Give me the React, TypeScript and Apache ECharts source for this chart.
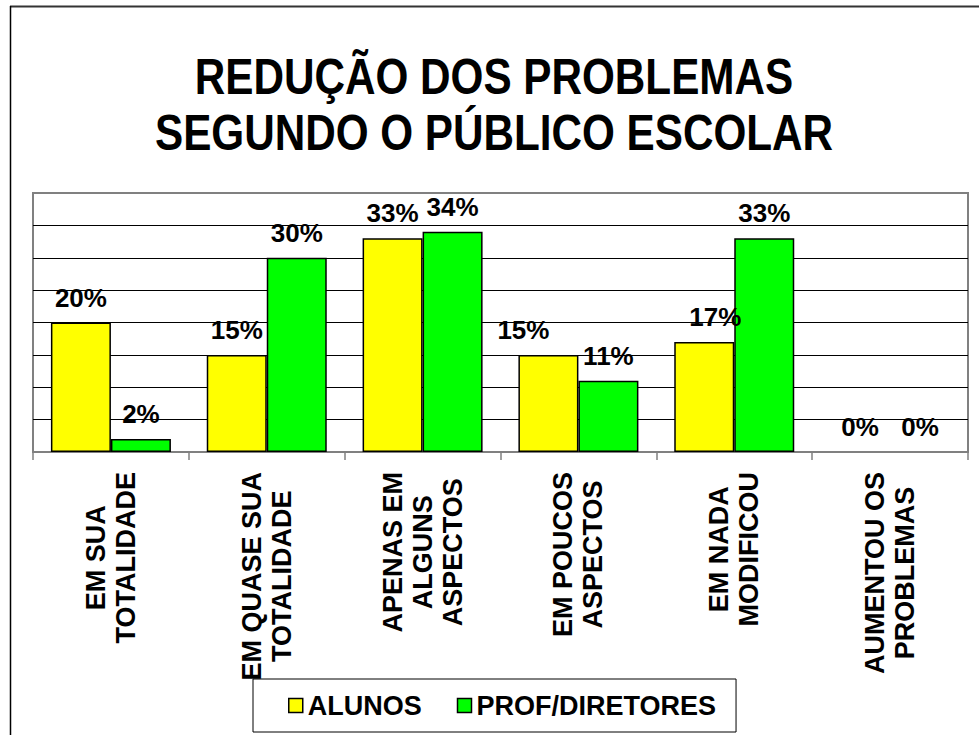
import React, { useEffect, useRef } from "react";
import * as echarts from "echarts";

const titleLines = ["REDUÇÃO DOS PROBLEMAS", "SEGUNDO O PÚBLICO ESCOLAR"];
const categories = [
  "EM SUA\nTOTALIDADE",
  "EM QUASE SUA\nTOTALIDADE",
  "APENAS EM\nALGUNS\nASPECTOS",
  "EM POUCOS\nASPECTOS",
  "EM NADA\nMODIFICOU",
  "AUMENTOU OS\nPROBLEMAS",
];
const seriesNames = ["ALUNOS", "PROF/DIRETORES"];
const alunos = [20, 15, 33, 15, 17, 0];
const profDiretores = [2, 30, 34, 11, 33, 0];

const FONT = '"Liberation Sans", Arial, Helvetica, sans-serif';

export default function App() {
  const ref = useRef<HTMLDivElement>(null);
  useEffect(() => {
    document.body.style.margin = "0";
    if (!ref.current) return;
    const chart = echarts.init(ref.current, null, { renderer: "svg" });
    const labelBase = {
      show: true,
      position: "top",
      distance: 12,
      formatter: "{c}%",
      color: "#000",
      fontSize: 26,
      fontWeight: "bold",
      fontFamily: FONT,
    };
    const zeroStyle = (v: number, extra: any = {}) =>
      v === 0 ? { value: v, itemStyle: { borderWidth: 0 }, ...extra } : Object.keys(extra).length ? { value: v, ...extra } : v;
    const alunosData = alunos.map((v, i) => {
      if (i === 3) return zeroStyle(v, { label: { offset: [-25, 0] } });
      if (i === 4) return zeroStyle(v, { label: { offset: [11, 0] } });
      return zeroStyle(v);
    });
    const profData = profDiretores.map((v) => zeroStyle(v));
    const option = {
      animation: false,
      backgroundColor: "#fff",
      graphic: [
        {
          type: "line",
          shape: { x1: 10, y1: 6.5, x2: 979, y2: 6.5 },
          style: { stroke: "#333", lineWidth: 2 },
        },
        {
          type: "line",
          shape: { x1: 10.5, y1: 6, x2: 10.5, y2: 735 },
          style: { stroke: "#000", lineWidth: 1.5 },
        },
        ...titleLines.map((t, i) => ({
          type: "text",
          x: 494,
          y: 77 + i * 56,
          scaleX: 0.845,
          style: {
            text: t,
            fill: "#000",
            fontSize: 50,
            fontWeight: "bold",
            fontFamily: FONT,
            align: "center",
            verticalAlign: "middle",
          },
        })),
      ],
      legend: {
        left: 253,
        top: 679,
        orient: "horizontal",
        padding: [13, 20, 13, 35],
        itemGap: 35,
        itemWidth: 14,
        itemHeight: 14,
        icon: "path://M0,0L10,0L10,10L0,10Z",
        symbolKeepAspect: true,
        borderColor: "#000",
        borderWidth: 1,
        itemStyle: { borderColor: "#000", borderWidth: 1.5 },
        textStyle: {
          color: "#000",
          fontSize: 27,
          fontWeight: "bold",
          fontFamily: FONT,
        },
        data: seriesNames,
      },
      grid: {
        left: 33,
        right: 11,
        top: 193,
        bottom: 283,
        show: true,
        borderColor: "#808080",
        borderWidth: 2,
      },
      xAxis: {
        type: "category",
        data: categories,
        axisLine: { show: true, lineStyle: { color: "#808080", width: 2 } },
        axisTick: { show: true, length: 8, lineStyle: { color: "#808080", width: 1.5 } },
        axisLabel: {
          rotate: 90,
          margin: 20,
          interval: 0,
          formatter: (v: string) => `{c|${v}}`,
          rich: {
            c: {
              align: "center",
              fontSize: 27,
              fontWeight: "bold",
              fontFamily: FONT,
              color: "#000",
              lineHeight: 30,
            },
          },
        },
      },
      yAxis: {
        type: "value",
        min: 0,
        max: 40,
        interval: 5,
        axisLine: { show: false },
        axisTick: { show: false },
        axisLabel: { show: false },
        splitLine: {
          show: true,
          lineStyle: {
            color: ["#808080", "#000", "#000", "#000", "#000", "#000", "#000", "#000"],
            width: 1,
          },
        },
      },
      series: [
        {
          name: seriesNames[0],
          type: "bar",
          data: alunosData,
          barWidth: 60,
          barGap: "0%",
          itemStyle: { color: "#FFFF00", borderColor: "#000", borderWidth: 1.5 },
          label: labelBase,
        },
        {
          name: seriesNames[1],
          type: "bar",
          data: profData,
          barWidth: 60,
          barGap: "0%",
          itemStyle: { color: "#00FF00", borderColor: "#000", borderWidth: 1.5 },
          label: labelBase,
        },
      ],
    };
    chart.setOption(option as any);
    return () => chart.dispose();
  }, []);
  return <div ref={ref} style={{ width: 979, height: 735 }} />;
}
